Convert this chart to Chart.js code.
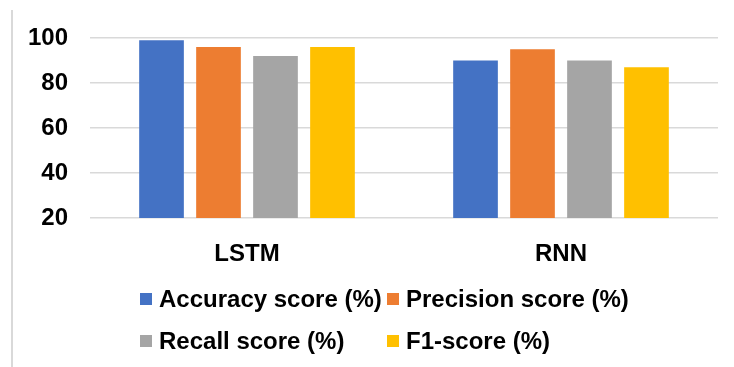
<!DOCTYPE html>
<html>
<head>
<meta charset="utf-8">
<script src="https://cdn.jsdelivr.net/npm/chart.js@4"></script>
<style>
    html, body { margin: 0; padding: 0; background: #fff; }
    #wrap { position: relative; width: 734px; height: 367px; overflow: hidden; }
    #scoreChart { position: absolute; left: 0; top: 0; }
    /* thin frame line on the left edge */
    #edge { position: absolute; left: 11px; top: 10px; width: 2px; height: 357px; background: #d9d9d9; }
    #legend {
        position: absolute; left: 140px; top: 278px;
        display: grid; grid-template-columns: 247px auto; grid-auto-rows: 42px;
        font: bold 24px "Liberation Sans", Arial, sans-serif; color: #000;
    }
    .item { display: flex; align-items: center; white-space: nowrap; }
    .swatch { width: 12px; height: 12px; margin-right: 7px; flex: none; }
</style>
</head>
<body>
<div id="wrap">
    <div id="edge"></div>
    <canvas id="scoreChart" width="734" height="367"></canvas>
    <div id="legend"></div>
</div>
<script>
// モデル別スコア
const models = ['LSTM', 'RNN'];
const accuracy = [99, 90];
const precision = [96, 95];
const recall = [92, 90];
const f1 = [96, 87];
const seriesNames = ['Accuracy score (%)', 'Precision score (%)', 'Recall score (%)', 'F1-score (%)'];
const seriesColors = ['#4472c4', '#ed7d31', '#a5a5a5', '#ffc000'];
const yTicks = [20, 40, 60, 80, 100];

Chart.defaults.font.family = '"Liberation Sans", Arial, sans-serif';
Chart.defaults.color = '#000';

const datasets = [accuracy, precision, recall, f1].map((values, i) => ({
    label: seriesNames[i],
    data: values,
    backgroundColor: seriesColors[i],
    borderWidth: 0,
    categoryPercentage: 0.726,
    barPercentage: 0.784
}));

const chart = new Chart(document.getElementById('scoreChart'), {
    type: 'bar',
    data: { labels: models, datasets: datasets },
    options: {
        responsive: false,
        animation: false,
        layout: { padding: { left: 0, right: 16, top: 38, bottom: 99 } },
        plugins: {
            legend: { display: false },
            tooltip: { enabled: false }
        },
        scales: {
            x: {
                grid: { display: false },
                border: { display: false },
                ticks: { font: { size: 24, weight: 'bold' }, padding: 14 },
                afterFit: (scale) => { scale.height = 50; }
            },
            y: {
                min: yTicks[0],
                max: yTicks[yTicks.length - 1],
                ticks: { stepSize: 20, font: { size: 24, weight: 'bold' }, padding: 22 },
                grid: { color: '#d9d9d9', lineWidth: 1.5, drawTicks: false },
                border: { display: false },
                afterFit: (scale) => { scale.width = 90; }
            }
        }
    }
});

// 凡例は2列で並べる
const legendBox = document.getElementById('legend');
chart.data.datasets.forEach(ds => {
    const item = document.createElement('div');
    item.className = 'item';
    const swatch = document.createElement('span');
    swatch.className = 'swatch';
    swatch.style.background = ds.backgroundColor;
    const text = document.createElement('span');
    text.textContent = ds.label;
    item.appendChild(swatch);
    item.appendChild(text);
    legendBox.appendChild(item);
});
</script>
</body>
</html>
